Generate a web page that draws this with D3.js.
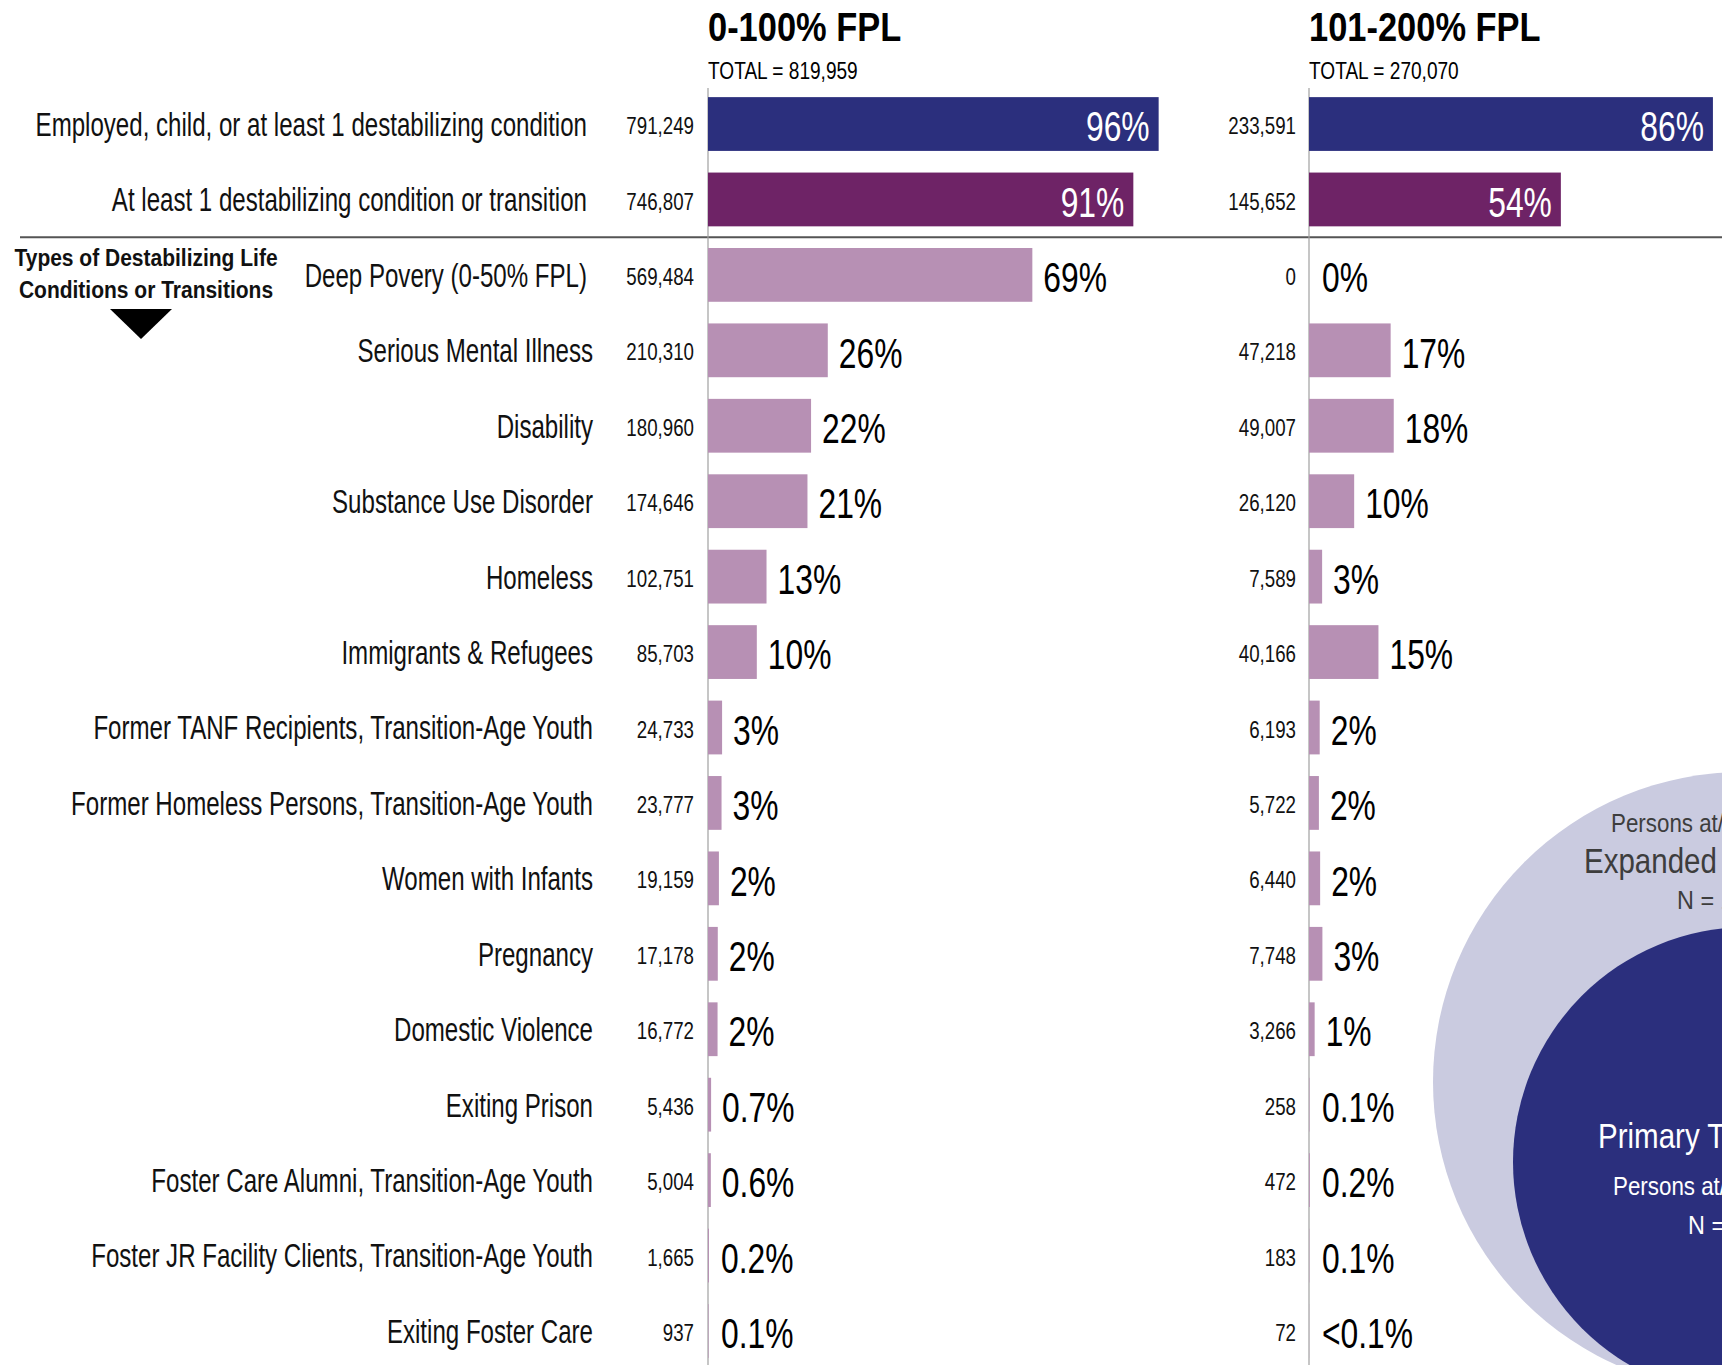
<!DOCTYPE html>
<html>
<head>
<meta charset="utf-8">
<script src="https://cdn.jsdelivr.net/npm/d3@7"></script>
<style>
  html, body { margin: 0; padding: 0; background: #ffffff; }
  svg { display: block; }
  text { font-family: "Liberation Sans", Arial, sans-serif; }
</style>
</head>
<body>
<svg id="chart" width="1722" height="1365"></svg>
<script>
// ---------------- DATA ----------------
const categories = [
  "Employed, child, or at least 1 destabilizing condition",
  "At least 1 destabilizing condition or transition",
  "Deep Povery (0-50% FPL)",
  "Serious Mental Illness",
  "Disability",
  "Substance Use Disorder",
  "Homeless",
  "Immigrants & Refugees",
  "Former TANF Recipients, Transition-Age Youth",
  "Former Homeless Persons, Transition-Age Youth",
  "Women with Infants",
  "Pregnancy",
  "Domestic Violence",
  "Exiting Prison",
  "Foster Care Alumni, Transition-Age Youth",
  "Foster JR Facility Clients, Transition-Age Youth",
  "Exiting Foster Care"
];
const rowGroup = ["summary", "condition", "type", "type", "type", "type", "type", "type", "type", "type", "type", "type", "type", "type", "type", "type", "type"];

const panelTitles = ["0-100% FPL", "101-200% FPL"];
const panelTotals = [819959, 270070];

const counts0to100 = [791249, 746807, 569484, 210310, 180960, 174646, 102751, 85703, 24733, 23777, 19159, 17178, 16772, 5436, 5004, 1665, 937];
const counts101to200 = [233591, 145652, 0, 47218, 49007, 26120, 7589, 40166, 6193, 5722, 6440, 7748, 3266, 258, 472, 183, 72];

const pctLabels0to100 = ["96%", "91%", "69%", "26%", "22%", "21%", "13%", "10%", "3%", "3%", "2%", "2%", "2%", "0.7%", "0.6%", "0.2%", "0.1%"];
const pctLabels101to200 = ["86%", "54%", "0%", "17%", "18%", "10%", "3%", "15%", "2%", "2%", "2%", "3%", "1%", "0.1%", "0.2%", "0.1%", "<0.1%"];

const sectionLabel = ["Types of Destabilizing Life", "Conditions or Transitions"];
const outerCircleText = ["Persons at/below 200% FPL", "Expanded Target Population", "N = 1,090,029"];
const innerCircleText = ["Primary Target Population", "Persons at/below 100% FPL", "N = 819,959"];

// ---------------- STYLE ----------------
const colors = { summary: "#2b2f7d", condition: "#6e2366", type: "#b790b4", outer: "#cacbe0", inner: "#2b2f7d" };

const svg = d3.select("#chart");
const W = 1722, H = 1365;

// condensed text helper: horizontal squeeze about the anchor point
function condensed(sel, fx, fy, sx) {
  return sel.attr("x", 0).attr("y", 0)
    .attr("transform", (d, i) => `translate(${typeof fx === "function" ? fx(d, i) : fx},${typeof fy === "function" ? fy(d, i) : fy}) scale(${sx},1)`);
}

const y = d3.scaleBand()
  .domain(categories)
  .range([86.3, 1368.7])
  .paddingInner(0.287)
  .paddingOuter(0.1435);

const barMax = 467;
const panels = [
  { x0: 708, counts: counts0to100, labels: pctLabels0to100, total: panelTotals[0], title: panelTitles[0], countRight: 694 },
  { x0: 1309, counts: counts101to200, labels: pctLabels101to200, total: panelTotals[1], title: panelTitles[1], countRight: 1296 }
];

// ---------- background circles ----------
const circ = svg.append("g");
circ.append("circle").attr("cx", 1743).attr("cy", 1082).attr("r", 310).attr("fill", colors.outer);
circ.append("circle").attr("cx", 1748).attr("cy", 1162).attr("r", 235).attr("fill", colors.inner);

const circTexts = [
  { t: outerCircleText[0], x: 1611, y: 832, s: 26, sx: 0.86, f: "#3d3d3d" },
  { t: outerCircleText[1], x: 1584, y: 873, s: 36, sx: 0.82, f: "#3d3d3d" },
  { t: outerCircleText[2], x: 1677, y: 909, s: 26, sx: 0.90, f: "#3d3d3d" },
  { t: innerCircleText[0], x: 1598, y: 1148, s: 36, sx: 0.82, f: "#ffffff" },
  { t: innerCircleText[1], x: 1613, y: 1195, s: 26, sx: 0.86, f: "#ffffff" },
  { t: innerCircleText[2], x: 1688, y: 1234, s: 26, sx: 0.90, f: "#ffffff" }
];
circTexts.forEach(c => {
  condensed(circ.append("text"), c.x, c.y, c.sx).attr("font-size", c.s).attr("fill", c.f).text(c.t);
});

// ---------- separator ----------
const sepY = (y(categories[1]) + y.bandwidth() + y(categories[2])) / 2;
svg.append("line").attr("x1", 20).attr("x2", W).attr("y1", sepY).attr("y2", sepY)
  .attr("stroke", "#555").attr("stroke-width", 2);

// ---------- category labels ----------
condensed(svg.append("g").selectAll("text").data(categories).join("text"),
    (d, i) => i < 3 ? 587 : 593,
    d => y(d) + y.bandwidth() / 2, 0.73)
  .attr("dy", "0.36em")
  .attr("text-anchor", "end")
  .attr("font-size", 33)
  .attr("fill", "#111")
  .text(d => d);

// section label + triangle
condensed(svg.append("g").selectAll("text").data(sectionLabel).join("text"),
    146, (d, i) => 266 + i * 32, 0.875)
  .attr("text-anchor", "middle").attr("font-weight", "bold").attr("font-size", 24).attr("fill", "#111")
  .text(d => d);
svg.append("path").attr("d", "M110,309 L172,309 L141,339 Z").attr("fill", "#000");

// ---------- panels ----------
panels.forEach(p => {
  const x = d3.scaleLinear().domain([0, 1]).range([p.x0, p.x0 + barMax]);
  const g = svg.append("g");

  condensed(g.append("text"), p.x0, 41, 0.84).attr("font-size", 41).attr("font-weight", "bold").attr("fill", "#000").text(p.title);
  condensed(g.append("text"), p.x0, 79, 0.83).attr("font-size", 23).attr("fill", "#000").text("TOTAL = " + d3.format(",")(p.total));

  g.append("line").attr("x1", p.x0).attr("x2", p.x0).attr("y1", 88).attr("y2", H)
    .attr("stroke", "#a0a0a0").attr("stroke-width", 1.2);

  const rows = categories.map((c, i) => ({ c, i, v: p.counts[i], frac: p.counts[i] / p.total, label: p.labels[i], grp: rowGroup[i] }));

  g.selectAll("rect").data(rows).join("rect")
    .attr("x", x(0))
    .attr("y", d => y(d.c))
    .attr("width", d => x(d.frac) - x(0))
    .attr("height", y.bandwidth())
    .attr("fill", d => colors[d.grp]);

  condensed(g.selectAll("text.count").data(rows).join("text").attr("class", "count"),
      p.countRight, d => y(d.c) + y.bandwidth() / 2, 0.78)
    .attr("dy", "0.42em")
    .attr("text-anchor", "end")
    .attr("font-size", 24)
    .attr("fill", "#111")
    .text(d => d3.format(",")(d.v));

  condensed(g.selectAll("text.pct").data(rows).join("text").attr("class", "pct"),
      d => d.grp === "type" ? Math.max(x(d.frac), x(0) + 2) + 11 : x(d.frac) - 9,
      d => y(d.c) + y.bandwidth() / 2, 0.74)
    .attr("dy", "0.40em")
    .attr("text-anchor", d => d.grp === "type" ? "start" : "end")
    .attr("font-size", 43)
    .attr("fill", d => d.grp === "type" ? "#000" : "#fff")
    .text(d => d.label);
});
</script>
</body>
</html>
